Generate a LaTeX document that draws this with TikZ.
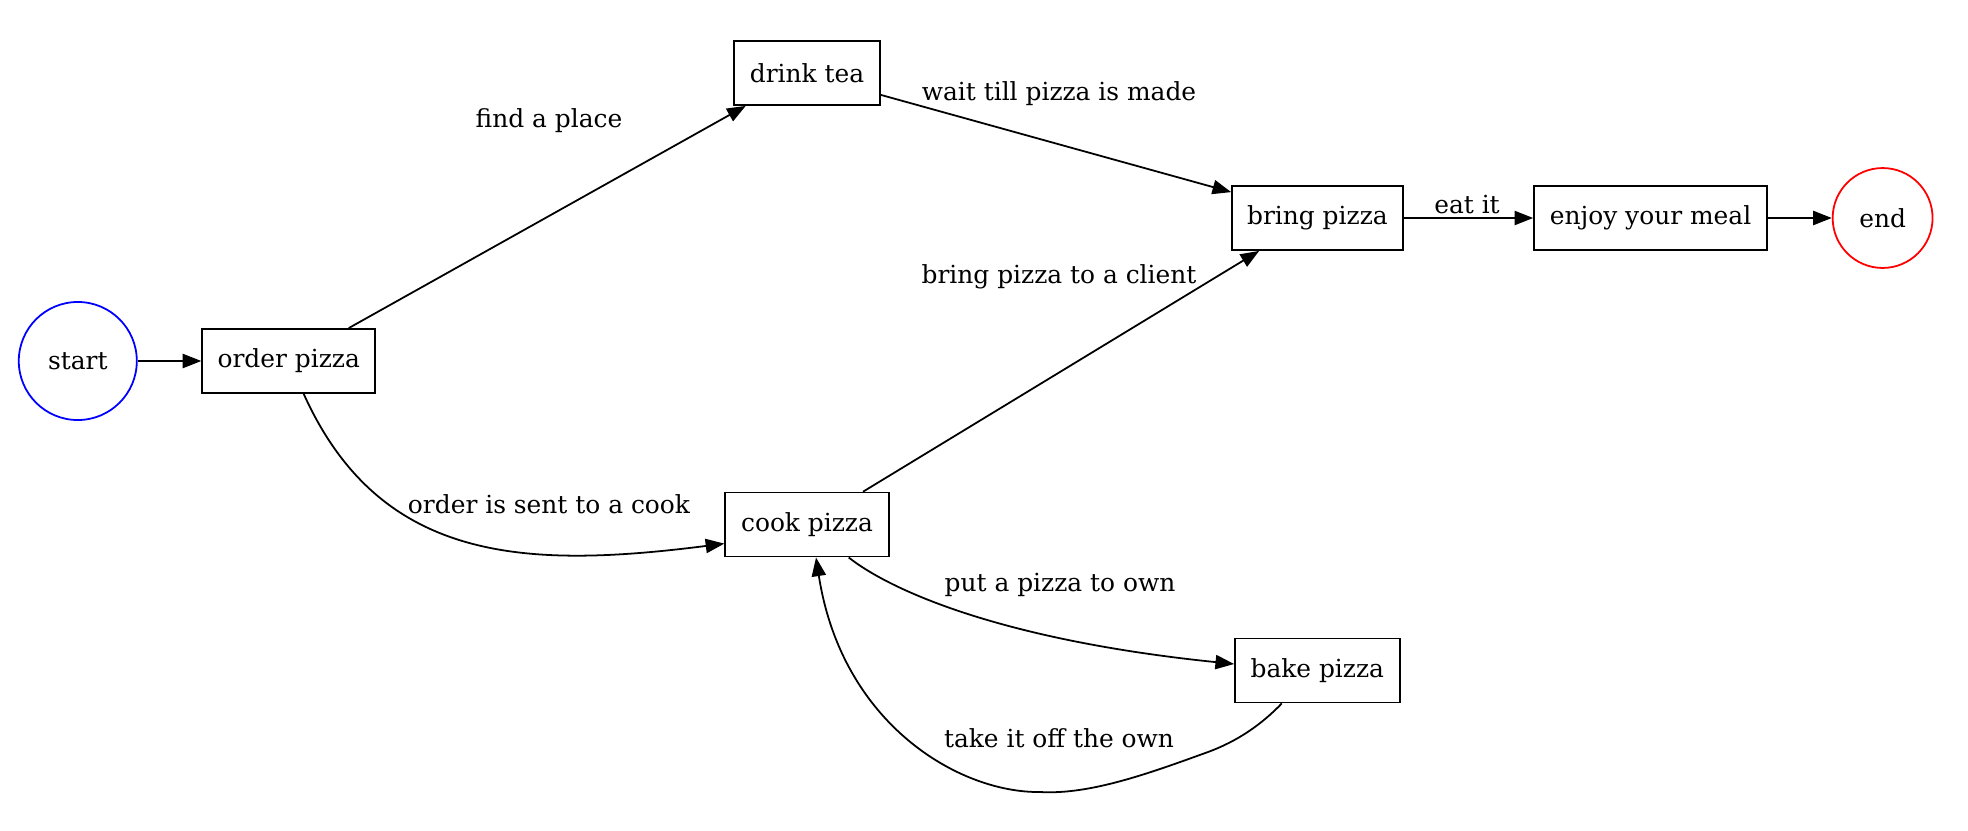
\documentclass[tikz,border=0pt]{standalone}
\usepackage{fontspec}
\setmainfont{DejaVu Serif}
\usetikzlibrary{arrows.meta,calc}
\begin{document}
\begin{tikzpicture}[x=0.5625pt,y=-0.5625pt,
  font=\fontsize{14pt}{16pt}\selectfont,
  box/.style={draw,line width=1pt,inner sep=0pt,minimum height=36pt},
  circ/.style={circle,draw,line width=1pt,inner sep=0pt},
  edge/.style={line width=1pt,-{Triangle[length=10.5pt,width=8pt]}},
  lbl/.style={inner sep=0pt}]
\path[use as bounding box] (0,0) rectangle (1968,830);
% nodes
\node[circ,draw=blue,minimum size=66.4pt] (st) at (77.8,361) {start};
\node[box,minimum width=97.3pt] (op) at (288.7,361) {order pizza};
\node[box,minimum width=82pt] (dt) at (807,73) {drink tea};
\node[box,minimum width=92pt] (cp) at (807,524.6) {cook pizza};
\node[box,minimum width=96pt] (bp) at (1317.4,218) {bring pizza};
\node[box,minimum width=92.6pt] (bk) at (1317.3,670.5) {bake pizza};
\node[box,minimum width=131pt] (en) at (1650.5,218) {enjoy your meal};
\node[circ,draw=red,minimum size=56.2pt] (nd) at (1882.6,218) {end};
% labels
\node[lbl] (l1) at (549,121) {find a place};
\node[lbl] (l2) at (549,504.5) {order is sent to a cook};
\node[lbl] (l3) at (1059,94) {wait till pizza is made};
\node[lbl] (l4) at (1059,277) {bring pizza to a client};
\node[lbl] (l5) at (1060,585) {put a pizza to own};
\node[lbl] (l6) at (1059,738) {take it off the own};
\node[lbl] (l7) at (1467,205) {eat it};
% edges
\draw[edge] (st.east) -- (op.west);
\draw[edge] ($(op.north)+(60,0)$) -- ($(dt.south west)+(12.5,0)$);
\draw[edge] ($(op.south)+(15,0)$) .. controls (380,563) and (525,569) .. ($(cp.west)+(0,19)$);
\draw[edge] ($(dt.south east)+(0,-11)$) -- ($(bp.north west)+(0,7)$);
\draw[edge] ($(cp.north)+(56,0)$) -- ($(bp.south west)+(28,0)$);
\draw[edge] ($(cp.south)+(41.7,0)$) .. controls (890,590) and (1000,640) .. ($(bk.west)+(0,-6.5)$);
\draw[edge] ($(bk.south)+(-35.5,0)$) .. controls (1262,724) and (1238,741) .. (1208,752)
   .. controls (1150,773) and (1090,795) .. (1040,792)
   .. controls (960,793) and (842,725) .. ($(cp.south)+(9,0)$);
\draw[edge] (bp.east) -- (en.west);
\draw[edge] (en.east) -- (nd.west);
\end{tikzpicture}
\end{document}
